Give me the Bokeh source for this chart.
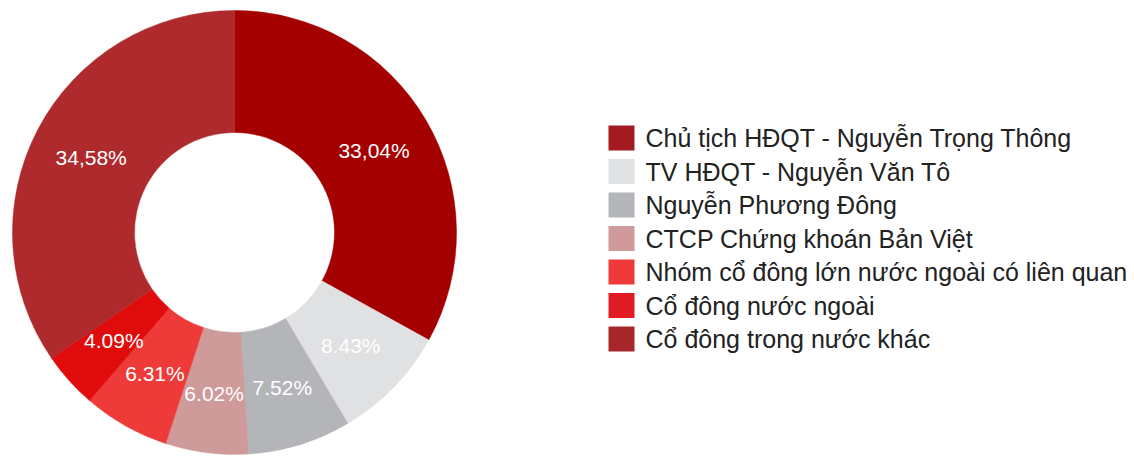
import math
from bokeh.plotting import figure
from bokeh.models import Range1d, ColumnDataSource
from bokeh.core.properties import value
from bokeh.embed import file_html
from bokeh.resources import INLINE

categories = [
    "Chủ tịch HĐQT - Nguyễn Trọng Thông",
    "TV HĐQT - Nguyễn Văn Tô",
    "Nguyễn Phương Đông",
    "CTCP Chứng khoán Bản Việt",
    "Nhóm cổ đông lớn nước ngoài có liên quan",
    "Cổ đông nước ngoài",
    "Cổ đông trong nước khác",
]
shares = [33.04, 8.43, 7.52, 6.02, 6.31, 4.09, 34.58]
pct_labels = ["33,04%", "8.43%", "7.52%", "6.02%", "6.31%", "4.09%", "34,58%"]
slice_colors = ["#A50000", "#E0E1E3", "#B4B5B8", "#CE9A9A", "#EF3A3A", "#E00C0C", "#AE2A2C"]
legend_colors = ["#A31B20", "#E0E1E3", "#B4B5B8", "#CE9A9A", "#EF3A3A", "#E01B24", "#A6262A"]

W, H = 1134, 457
p = figure(width=W, height=H, output_backend="svg", toolbar_location=None,
           x_range=Range1d(0, W), y_range=Range1d(0, H), min_border=0)
p.axis.visible = False
p.grid.visible = False
p.outline_line_color = None
p.background_fill_color = "white"
p.border_fill_color = "white"

cx, cy = 234, H - 232
r_out, r_in = 222, 100
total = sum(shares)
starts, ends, lx, ly = [], [], [], []
cum = 0.0
for v in shares:
    f0 = cum / total
    cum += v
    f1 = cum / total
    a0 = math.pi / 2 - f0 * 2 * math.pi
    a1 = math.pi / 2 - f1 * 2 * math.pi
    starts.append(a0)
    ends.append(a1)
    am = (a0 + a1) / 2
    lx.append(cx + 162 * math.cos(am))
    ly.append(cy + 162 * math.sin(am))

src = ColumnDataSource(dict(start=starts, end=ends, color=slice_colors,
                            lx=lx, ly=ly, lab=pct_labels))
p.annular_wedge(x=cx, y=cy, inner_radius=r_in, outer_radius=r_out,
                start_angle="start", end_angle="end", direction="clock",
                fill_color="color", line_color="color", line_width=0.5, source=src)
p.text(x="lx", y="ly", text="lab", source=src, text_color="white",
       text_font=value("Liberation Sans"), text_font_size="21px",
       text_align="center", text_baseline="middle")

# legend
n = len(categories)
row_y = [H - (137.5 + i * 33.5) for i in range(n)]
leg = ColumnDataSource(dict(y=row_y, color=legend_colors, name=categories))
p.rect(x=621, y="y", width=26, height=25, fill_color="color", line_color=None, source=leg)
p.text(x=645, y="y", text="name", source=leg, text_color="#222222",
       text_font=value("Liberation Sans"), text_font_size="25px",
       text_align="left", text_baseline="middle")

open("out.html", "w").write(file_html(p, INLINE))
